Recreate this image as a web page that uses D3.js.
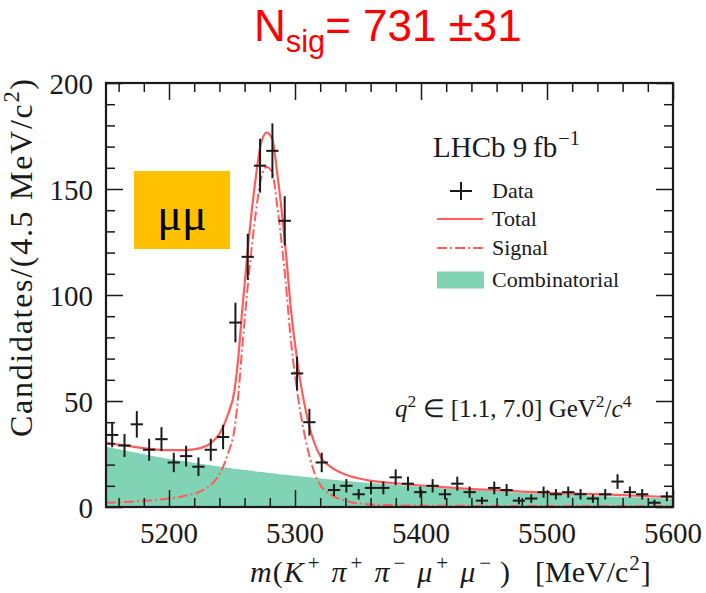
<!DOCTYPE html>
<html><head><meta charset="utf-8">
<script src="https://cdn.jsdelivr.net/npm/d3@7"></script>
<style>body{margin:0;background:#fff}</style>
</head><body>
<svg id="chart" width="706" height="593"></svg>
<script>
// Histogram: 46 equal-width bins between massMin and massMax
const massMin = 5150, massMax = 5600;
const counts = [34, 29, 39, 27, 32, 21, 24, 19, 27, 33,
                87, 118, 161, 168, 135, 63, 40, 21, 8, 10,
                6, 9, 9, 14, 11, 7, 10, 6, 11, 7,
                3, 9, 8, 3, 4, 7, 6, 7, 6, 4,
                6, 12, 7, 6, 2, 5];

// Fit components sampled along the mass axis (candidates per bin)
const fitMass   = [5150, 5160, 5172, 5185, 5198, 5212, 5225, 5233, 5240, 5247, 5252, 5255, 5258, 5263, 5269, 5273, 5277.5, 5282, 5286, 5292, 5297, 5302, 5309, 5314.5, 5321, 5328, 5341, 5357, 5380, 5420, 5460, 5500, 5550, 5600];
const fitTotal  = [30.4, 29.4, 28.4, 27.4, 26.8, 26.8, 27.8, 30.0, 34.5, 44.0, 55.0, 70.5, 92.0, 124.5, 156.0, 171.5, 176.6, 173.5, 157.0, 125.0, 92.0, 68.0, 44.2, 31.6, 23.0, 19.0, 15.1, 12.7, 11.2, 9.3, 7.9, 6.7, 5.8, 4.6];
const fitSignal = [2.0, 2.2, 2.6, 3.1, 3.9, 5.2, 7.4, 10.3, 15.4, 25.5, 36.9, 52.6, 74.4, 107.2, 139.2, 155.0, 160.4, 157.6, 141.4, 109.8, 77.1, 53.4, 30.1, 17.8, 9.6, 6.0, 2.8, 1.3, 0.8, 0.6, 0.5, 0.5, 0.5, 0.5];
const fitComb   = [28.4, 27.2, 25.8, 24.3, 22.9, 21.6, 20.4, 19.7, 19.1, 18.5, 18.1, 17.9, 17.6, 17.3, 16.8, 16.5, 16.2, 15.9, 15.6, 15.2, 14.9, 14.6, 14.1, 13.8, 13.4, 13.0, 12.3, 11.4, 10.4, 8.7, 7.3, 6.1, 4.9, 3.9];

const xMajor = [5200, 5300, 5400, 5500, 5600];
const yMajor = [0, 50, 100, 150, 200];
const legendLabels = ["Data", "Total", "Signal", "Combinatorial"];

const RED = "#ff5c5c", GREEN = "#80d3b4", INK = "#1a1a1a";
const SERIF = "Liberation Serif";

const svg = d3.select("#chart");
svg.append("rect").attr("width", 706).attr("height", 593).attr("fill", "#fff");

const plot = {left: 106, right: 673, top: 83, bottom: 507};
const x = d3.scaleLinear().domain([massMin, massMax]).range([plot.left, plot.right]);
const y = d3.scaleLinear().domain([0, 200]).range([plot.bottom, plot.top]);

svg.append("clipPath").attr("id", "plotClip")
  .append("rect").attr("x", plot.left).attr("y", plot.top)
  .attr("width", plot.right - plot.left).attr("height", plot.bottom - plot.top);

const body = svg.append("g").attr("clip-path", "url(#plotClip)");

// Combinatorial background (filled)
const pts = fitMass.map((m, i) => ({m, total: fitTotal[i], sig: fitSignal[i], comb: fitComb[i]}));
body.append("path").datum(pts)
  .attr("fill", GREEN)
  .attr("d", d3.area().x(d => x(d.m)).y0(y(0)).y1(d => y(d.comb)).curve(d3.curveMonotoneX));

// Signal component (dash-dot)
body.append("path").datum(pts)
  .attr("fill", "none").attr("stroke", RED).attr("stroke-width", 2)
  .attr("stroke-dasharray", "10,3,2,3")
  .attr("d", d3.line().x(d => x(d.m)).y(d => y(d.sig)).curve(d3.curveMonotoneX));

// Total fit
body.append("path").datum(pts)
  .attr("fill", "none").attr("stroke", RED).attr("stroke-width", 2.2)
  .attr("d", d3.line().x(d => x(d.m)).y(d => y(d.total)).curve(d3.curveMonotoneX));

// Data points with Poisson errors
const binW = (massMax - massMin) / counts.length;
const bins = counts.map((n, i) => ({lo: massMin + i * binW, hi: massMin + (i + 1) * binW, n}));
const dataG = body.append("g").attr("stroke", INK).attr("stroke-width", 2);
bins.forEach(b => {
  const cx = x((b.lo + b.hi) / 2), err = Math.sqrt(b.n);
  dataG.append("line").attr("x1", x(b.lo)).attr("x2", x(b.hi)).attr("y1", y(b.n)).attr("y2", y(b.n));
  dataG.append("line").attr("x1", cx).attr("x2", cx).attr("y1", y(b.n - err)).attr("y2", y(b.n + err));
});

// Ticks on all four sides (pointing inward), labels drawn separately
function styleAxis(g) {
  g.select(".domain").remove();
  g.selectAll(".tick line").attr("stroke", INK).attr("stroke-width", 1.5);
  g.selectAll(".tick text").remove();
}
const xMinor = d3.range(5160, massMax, 20).filter(v => !xMajor.includes(v));
const yMinor = d3.range(10, 200, 10).filter(v => !yMajor.includes(v));
const axes = [
  [d3.axisBottom(x), xMajor, 17, `translate(0,${plot.bottom})`], [d3.axisBottom(x), xMinor, 9, `translate(0,${plot.bottom})`],
  [d3.axisTop(x), xMajor, 17, `translate(0,${plot.top})`], [d3.axisTop(x), xMinor, 9, `translate(0,${plot.top})`],
  [d3.axisLeft(y), yMajor, 17, `translate(${plot.left},0)`], [d3.axisLeft(y), yMinor, 9, `translate(${plot.left},0)`],
  [d3.axisRight(y), yMajor, 17, `translate(${plot.right},0)`], [d3.axisRight(y), yMinor, 9, `translate(${plot.right},0)`]
];
axes.forEach(([ax, vals, len, tr]) => {
  svg.append("g").attr("transform", tr).call(ax.tickValues(vals).tickSize(-len)).call(styleAxis);
});

svg.append("g").selectAll("text").data(xMajor).join("text")
  .attr("x", d => x(d)).attr("y", 543).attr("text-anchor", "middle")
  .attr("font-family", SERIF).attr("font-size", 29).attr("fill", INK)
  .text(d => d3.format("d")(d));
svg.append("g").selectAll("text").data(yMajor).join("text")
  .attr("x", 93).attr("y", d => y(d) + 11).attr("text-anchor", "end")
  .attr("font-family", SERIF).attr("font-size", 29).attr("fill", INK)
  .text(d => d3.format("d")(d));

svg.append("rect").attr("x", plot.left).attr("y", plot.top)
  .attr("width", plot.right - plot.left).attr("height", plot.bottom - plot.top)
  .attr("fill", "none").attr("stroke", INK).attr("stroke-width", 2.2);

// Rich text helper: parts are [text, style, dx] with style in {"", "i", "sup", "sub"}
function richText(sel, parts, size) {
  const shift = size * 0.4;
  let offset = 0;
  parts.forEach(([t, s, dx]) => {
    const ts = sel.append("tspan").text(t);
    let target = 0;
    if (s === "sup") { target = -shift; ts.attr("font-size", size * 0.7); }
    else if (s === "sub") { target = size * 0.25; ts.attr("font-size", size * 0.7); }
    if (s === "i") ts.attr("font-style", "italic");
    if (dx) ts.attr("dx", dx);
    if (target !== offset) { ts.attr("dy", target - offset); offset = target; }
  });
  return sel;
}

// x-axis title (math spacing around the charge superscripts)
richText(svg.append("text").attr("x", 250).attr("y", 582)
  .attr("font-family", SERIF).attr("font-size", 30).attr("fill", INK),
  [["m", "i"], ["(", "", 1], ["K", "i", 1], ["+", "sup", 4], ["\u03C0", "i", 12], ["+", "sup", 4], ["\u03C0", "i", 12],
   ["\u2212", "sup", 4], ["\u03BC", "i", 12], ["+", "sup", 4], ["\u03BC", "i", 12], ["\u2212", "sup", 4], [")", "", 9]], 30);
richText(svg.append("text").attr("x", 535).attr("y", 582)
  .attr("font-family", SERIF).attr("font-size", 30).attr("fill", INK),
  [["[MeV/c", ""], ["2", "sup", 1], ["]", "", 1]], 30);

// y-axis title, rotated
richText(svg.append("text").attr("transform", "translate(32,258) rotate(-90)")
  .attr("text-anchor", "middle")
  .attr("font-family", SERIF).attr("font-size", 32).attr("fill", INK)
  .attr("textLength", 358).attr("lengthAdjust", "spacing"),
  [["Candidates/(4.5 MeV/c", ""], ["2", "sup"], [")", ""]], 32);

// Experiment label and legend
richText(svg.append("text").attr("x", 433).attr("y", 157)
  .attr("font-family", SERIF).attr("font-size", 29).attr("fill", INK),
  [["LHCb 9\u2009fb", ""], ["\u22121", "sup", 1]], 29);

const legY = [191, 219, 248, 280];
const lg = svg.append("g");
lg.append("line").attr("x1", 450).attr("x2", 472).attr("y1", legY[0]).attr("y2", legY[0]).attr("stroke", INK).attr("stroke-width", 2);
lg.append("line").attr("x1", 461).attr("x2", 461).attr("y1", legY[0] - 9).attr("y2", legY[0] + 9).attr("stroke", INK).attr("stroke-width", 2);
lg.append("line").attr("x1", 437).attr("x2", 483).attr("y1", legY[1]).attr("y2", legY[1]).attr("stroke", RED).attr("stroke-width", 2.2);
lg.append("line").attr("x1", 437).attr("x2", 483).attr("y1", legY[2]).attr("y2", legY[2]).attr("stroke", RED).attr("stroke-width", 2)
  .attr("stroke-dasharray", "10,3,2,3");
lg.append("rect").attr("x", 437).attr("y", legY[3] - 8.5).attr("width", 47).attr("height", 17).attr("fill", GREEN);
lg.selectAll("text.leg").data(legendLabels).join("text").attr("class", "leg")
  .attr("x", 492).attr("y", (d, i) => legY[i] + 6.5)
  .attr("font-family", SERIF).attr("font-size", 22).attr("fill", INK)
  .text(d => d);

// q^2 range annotation
richText(svg.append("text").attr("x", 395).attr("y", 417)
  .attr("font-family", SERIF).attr("font-size", 25).attr("fill", INK),
  [["q", "i"], ["2", "sup"], [" \u2208 [1.1, 7.0] GeV", ""], ["2", "sup"], ["/", ""], ["c", "i"], ["4", "sup"]], 25);

// Dimuon tag
svg.append("rect").attr("x", 134).attr("y", 171).attr("width", 96).attr("height", 78).attr("fill", "#FFC000");
svg.append("text").attr("x", 182).attr("y", 230).attr("text-anchor", "middle")
  .attr("font-family", SERIF).attr("font-size", 46).attr("fill", "#000").text("\u03BC\u03BC");

// Signal yield
richText(svg.append("text").attr("x", 254).attr("y", 41)
  .attr("font-family", "Liberation Sans").attr("font-size", 44).attr("fill", "#ff0000"),
  [["N", ""], ["sig", "sub"], ["= 731 \u00B131", ""]], 44);
</script>
</body></html>
